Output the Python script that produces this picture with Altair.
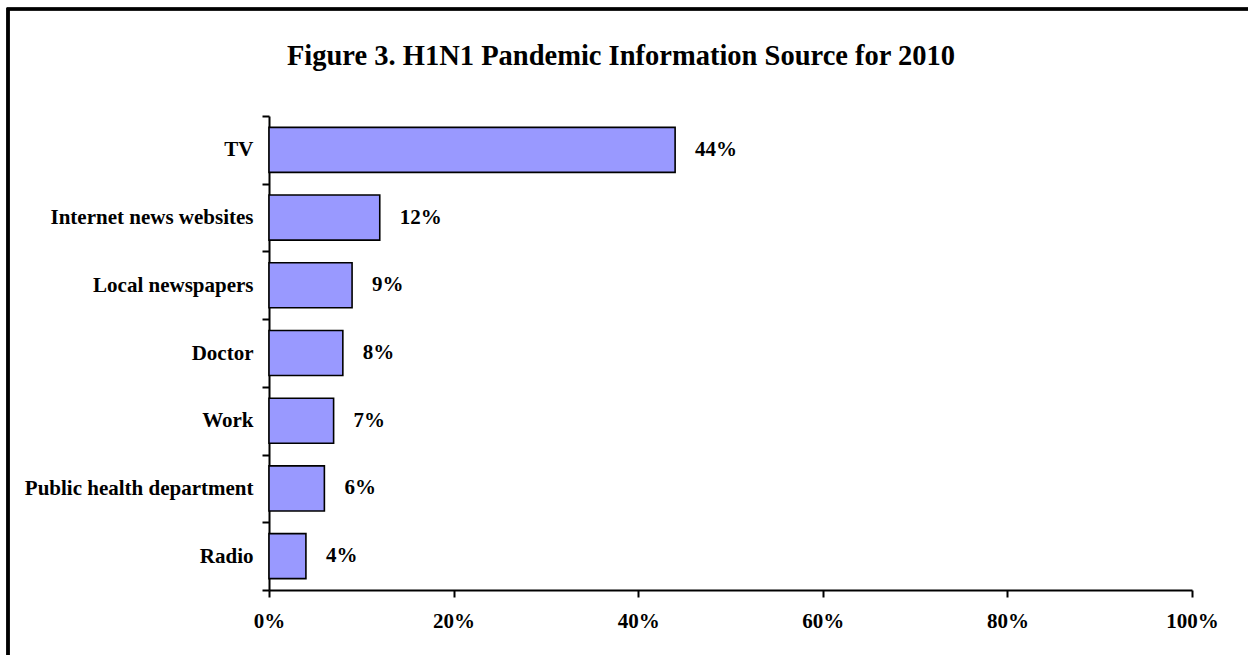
import altair as alt
import pandas as pd

categories = ["TV", "Internet news websites", "Local newspapers", "Doctor", "Work",
              "Public health department", "Radio"]
values = [0.44, 0.12, 0.09, 0.08, 0.07, 0.06, 0.04]
x_ticks = [0, 0.2, 0.4, 0.6, 0.8, 1.0]
title_text = "Figure 3. H1N1 Pandemic Information Source for 2010"

df = pd.DataFrame({"source": categories, "share": values})

FONT = "Liberation Serif"
FS = 21

y_enc = alt.Y("source:N", sort=categories, title=None,
              scale=alt.Scale(paddingInner=0, paddingOuter=0),
              axis=alt.Axis(tickBand="extent", tickSize=7, tickColor="black", tickWidth=2,
                            domainColor="black", domainWidth=2, labelPadding=9,
                            labelFont=FONT, labelFontSize=FS, labelFontWeight="bold",
                            labelColor="black", labelLimit=400))
x_enc = alt.X("share:Q", title=None,
              scale=alt.Scale(domain=[0, 1], nice=False),
              axis=alt.Axis(values=x_ticks, format=".0%", grid=False, tickSize=7,
                            tickColor="black", tickWidth=2, domainColor="black",
                            domainWidth=2, labelPadding=13, labelFont=FONT,
                            labelFontSize=FS, labelFontWeight="bold", labelColor="black",
                            labelFlush=False))

bars = alt.Chart(df).mark_bar(
    height={"band": 0.665}, fill="#9999FF", stroke="black", strokeWidth=1.6
).encode(x=x_enc, y=y_enc)

labels = alt.Chart(df).mark_text(
    align="left", baseline="middle", dx=20, font=FONT, fontSize=FS,
    fontWeight="bold", color="black"
).encode(x="share:Q", y=alt.Y("source:N", sort=categories), text=alt.Text("share:Q", format=".0%"))

frame = alt.Chart(df).mark_rect(
    filled=False, stroke="black", strokeWidth=2.6, fill=None
).encode(x=alt.value(-261), x2=alt.value(1000), y=alt.value(-107), y2=alt.value(600))

title = alt.Chart(pd.DataFrame({"t": [title_text]})).mark_text(
    align="center", baseline="alphabetic", font=FONT, fontSize=28.5, fontWeight="bold",
    color="black"
).encode(text="t:N", x=alt.value(352), y=alt.value(-51))

chart = alt.layer(frame, bars, labels, title).properties(
    width=923, height=474,
    autosize=alt.AutoSizeParams(type="none"),
    padding={"left": 269, "top": 116, "right": 56, "bottom": 65},
    background="white",
).configure_view(stroke=None)

chart.save("out.html", embed_options={"renderer": "svg", "actions": False})
